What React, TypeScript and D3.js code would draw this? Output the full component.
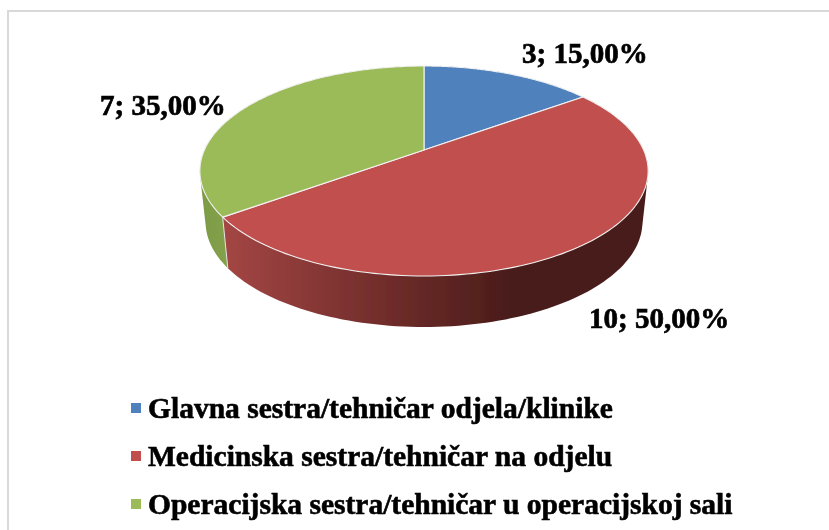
import React from "react";
import * as d3 from "d3";

const categories = [
  "Glavna sestra/tehničar odjela/klinike",
  "Medicinska sestra/tehničar na odjelu",
  "Operacijska sestra/tehničar u operacijskoj sali",
];
const values = [3, 10, 7];
const dataLabels = ["3; 15,00%", "10; 50,00%", "7; 35,00%"];
const topColors = ["#4f81bd", "#c0504d", "#9bbb59"];
const wallFills = ["#3b618e", "url(#redWall)", "url(#greenWall)"];
const wallOrder = [2, 0, 1];

const W = 829;
const H = 530;
const FONT = "'Liberation Serif', 'Times New Roman', serif";

// Projective view of a circle: near edge looks larger than the far edge.
const K = 0.2;
const project = (cx: number, cy: number, a: number, b: number) => (t: number): [number, number] => {
  const X = Math.sin(t);
  const Y = Math.cos(t);
  const d = 1 + K * Y;
  return [cx + (a * X) / d, cy - (b * Y) / d];
};
const topFace = project(424, 150, 219.6, 100.8);
const bottomFace = project(424, 201, 214, 100.8);

const arcs = d3.pie<number>().sort(null)(values);
const lineGen = d3.line();
const samples = (a: number, b: number) => d3.range(0, 121).map((i) => a + ((b - a) * i) / 120);

const topPath = (a: number, b: number) =>
  lineGen([[424, 150] as [number, number], ...samples(a, b).map(topFace)]) + "Z";
const wallPath = (a: number, b: number) =>
  lineGen(d3.polygonHull([...samples(a, b).map(topFace), ...samples(a, b).map(bottomFace)]) as [number, number][]) + "Z";

const labelPos: [number, number][] = [
  [522, 63],
  [589, 328],
  [100, 115],
];
const legendY = [418, 466, 514];
const legendSwatchY = [403, 451, 499];

export default function App() {
  const seam = arcs[1].endAngle;
  return (
    <svg
      width={W}
      height={H}
      viewBox={`0 0 ${W} ${H}`}
      style={{ position: "absolute", left: 0, top: 0, display: "block", background: "#fff" }}
    >
      <defs>
        <linearGradient id="redWall" gradientUnits="userSpaceOnUse" x1="225" x2="510" y1="0" y2="0">
          <stop offset="0" stopColor="#a34644" />
          <stop offset="0.5" stopColor="#762f2d" />
          <stop offset="1" stopColor="#4a1c1a" />
        </linearGradient>
        <linearGradient id="greenWall" gradientUnits="userSpaceOnUse" x1="200" x2="230" y1="0" y2="0">
          <stop offset="0" stopColor="#7d9a45" />
          <stop offset="1" stopColor="#84a24b" />
        </linearGradient>
        <filter id="soft" x="-5%" y="-5%" width="110%" height="110%">
          <feGaussianBlur stdDeviation="0.45" />
        </filter>
      </defs>
      <g stroke="#d9d9d9" fill="none">
        <line x1={7} x2={W} y1={11} y2={11} strokeWidth={2} />
        <line x1={8} x2={8} y1={10} y2={H} strokeWidth={2} />
      </g>
      <g filter="url(#soft)">
        {wallOrder.map((i) => (
          <path key={`w${i}`} d={wallPath(arcs[i].startAngle, arcs[i].endAngle)} fill={wallFills[i]} />
        ))}
        <line
          x1={topFace(seam)[0]}
          y1={topFace(seam)[1]}
          x2={bottomFace(seam)[0]}
          y2={bottomFace(seam)[1]}
          stroke="#e6e6e6"
          strokeWidth={1}
        />
        {arcs.map((d, i) => (
          <path
            key={`t${i}`}
            d={topPath(d.startAngle, d.endAngle)}
            fill={topColors[i]}
            stroke="#f2f2f2"
            strokeWidth={1.1}
            strokeLinejoin="round"
          />
        ))}
        {dataLabels.map((t, i) => (
          <text
            key={t}
            x={labelPos[i][0]}
            y={labelPos[i][1]}
            fontFamily={FONT}
            fontWeight={700}
            fontSize={29}
            fill="#000"
            stroke="#000"
            strokeWidth={0.7}
          >
            {t}
          </text>
        ))}
        {categories.map((c, i) => (
          <g key={c}>
            <rect x={131} y={legendSwatchY[i]} width={10} height={10} fill={topColors[i]} />
            <text
              x={148}
              y={legendY[i]}
              fontFamily={FONT}
              fontWeight={700}
              fontSize={29.5}
              fill="#000"
              stroke="#000"
              strokeWidth={0.6}
            >
              {c}
            </text>
          </g>
        ))}
      </g>
    </svg>
  );
}
